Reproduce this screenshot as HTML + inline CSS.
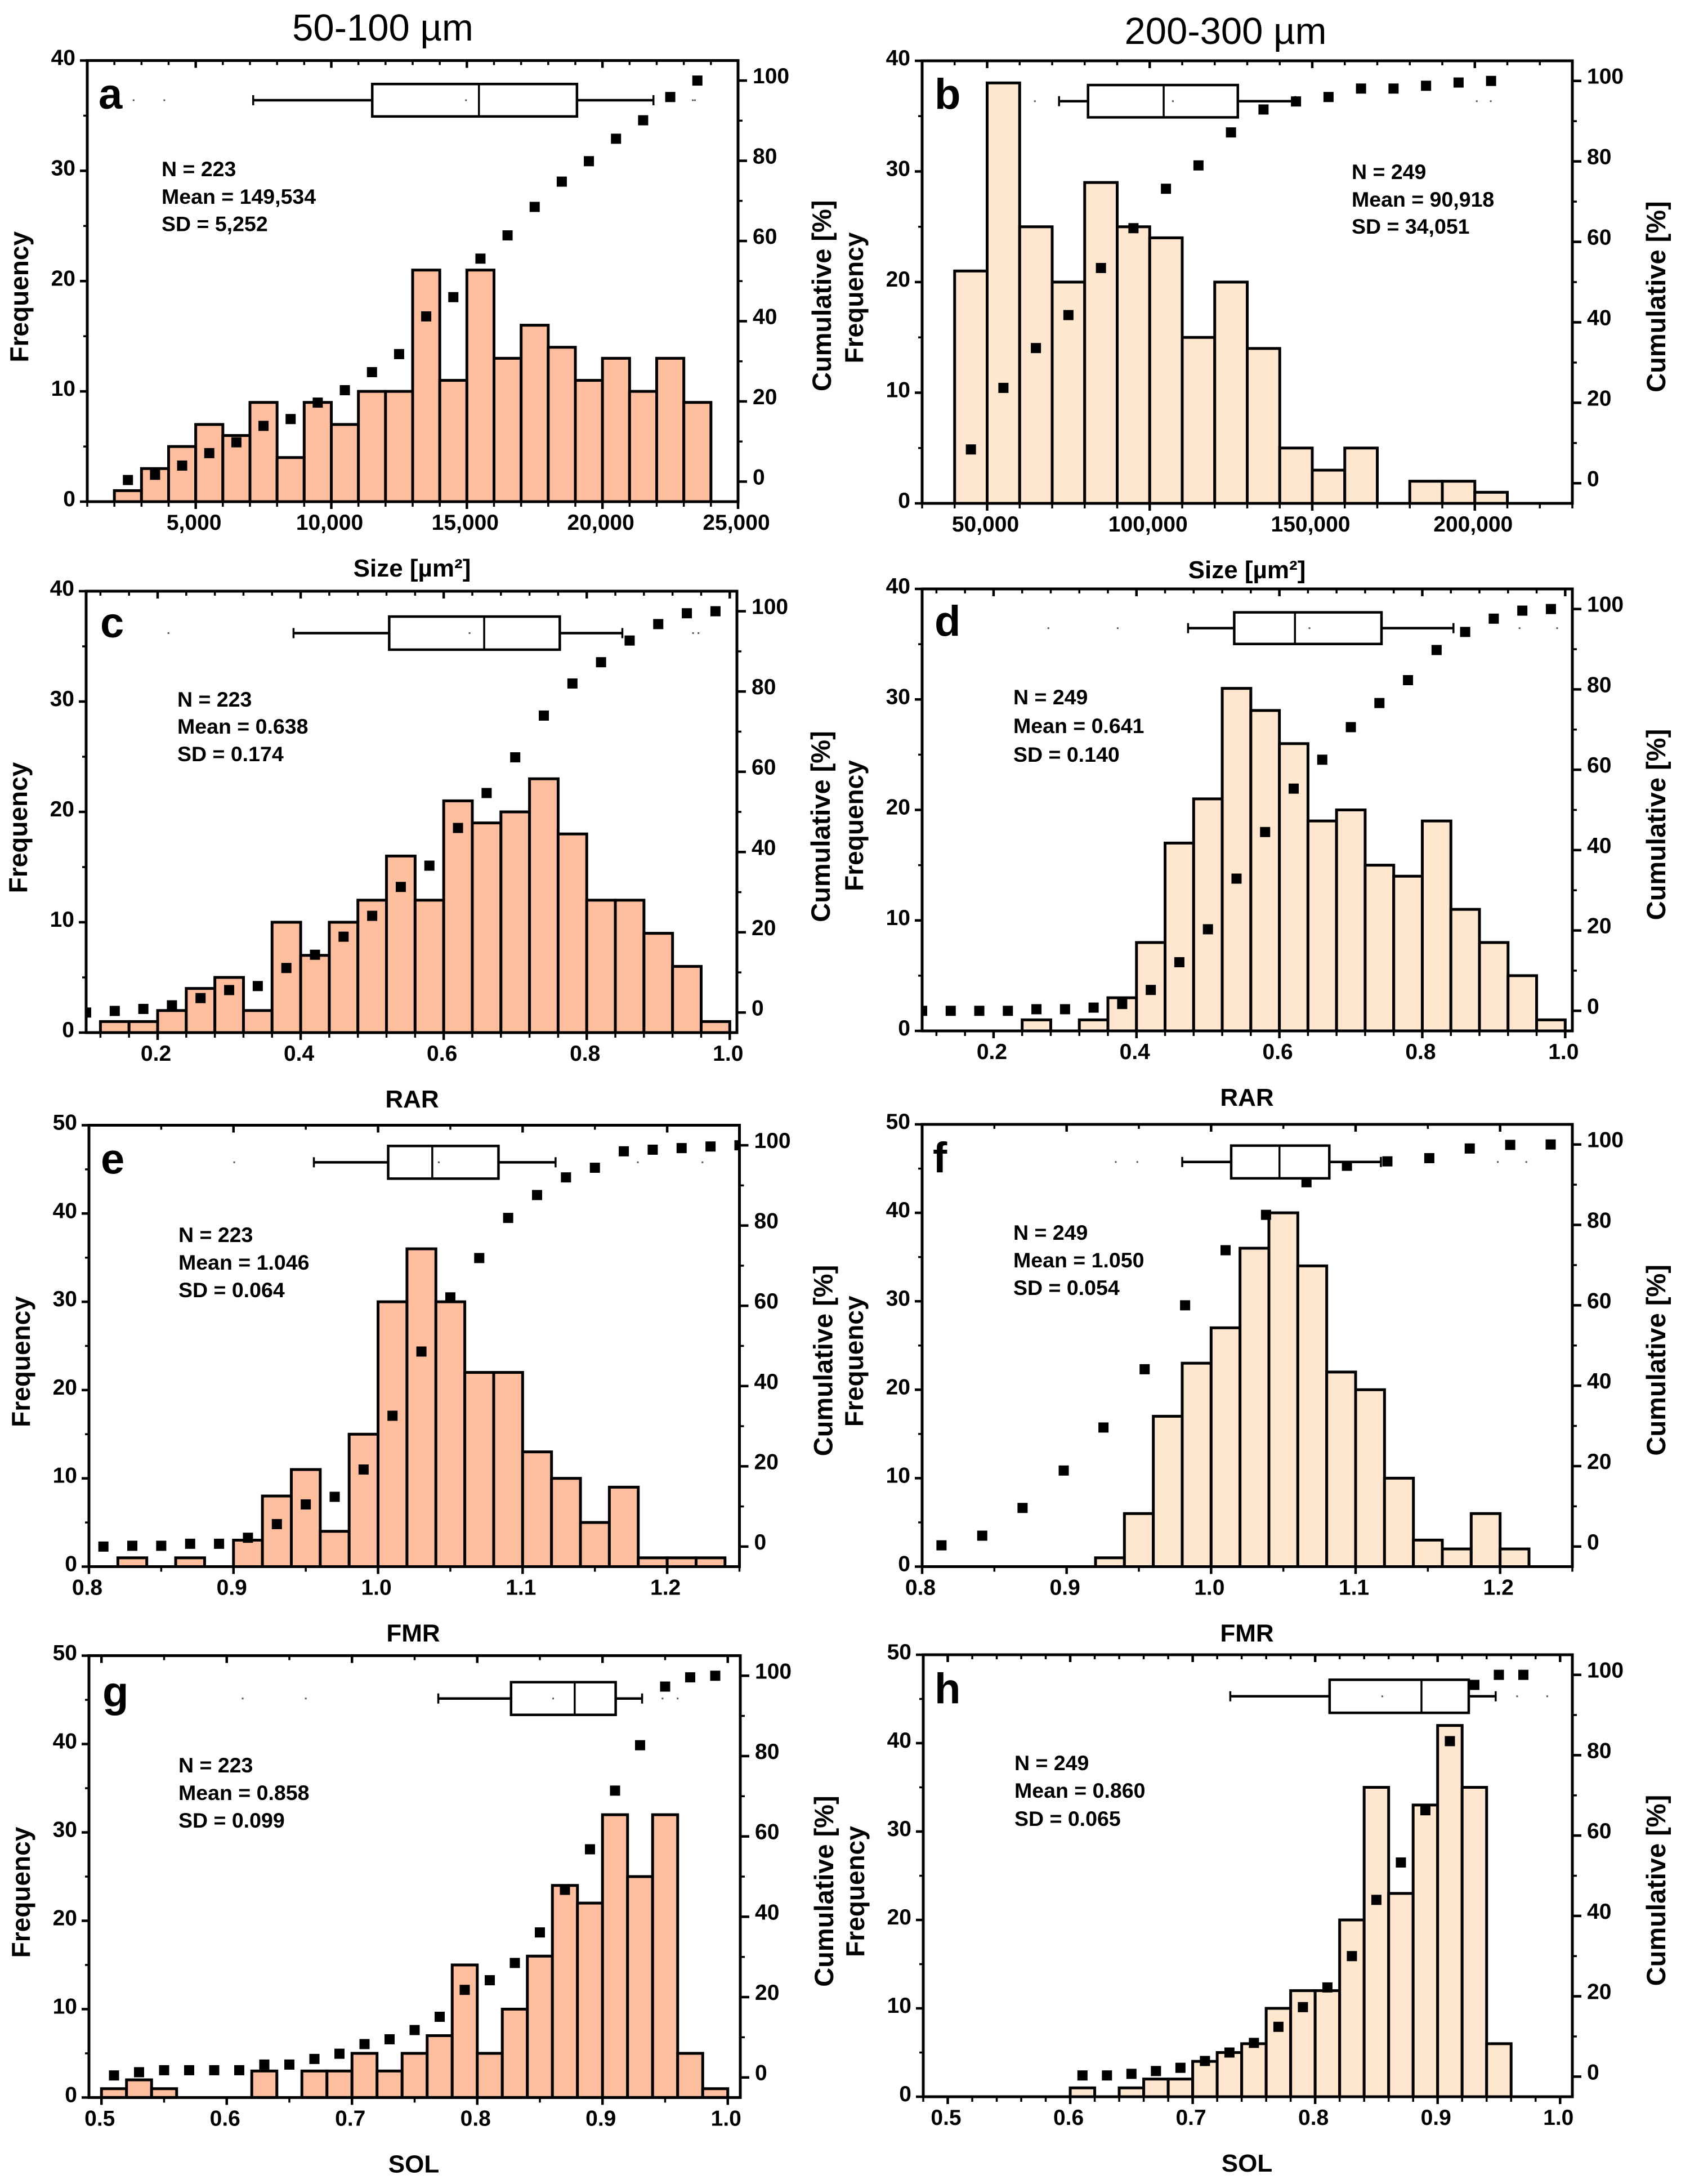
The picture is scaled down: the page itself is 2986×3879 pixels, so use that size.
<!DOCTYPE html>
<html lang="en">
<head>
<meta charset="utf-8">
<title>Particle shape histograms</title>
<style>
html,body{margin:0;padding:0;background:#fff;}
svg{display:block;}
text{font-family:"Liberation Sans",Arial,sans-serif;fill:#000;}
</style>
</head>
<body>
<svg id="figure" xmlns="http://www.w3.org/2000/svg" width="2986" height="3879" viewBox="0 0 2986 3879">
<rect x="0" y="0" width="2986" height="3879" fill="#fff"/>
<text x="680" y="72" font-size="67" text-anchor="middle">50-100 µm</text>
<text x="2177" y="78" font-size="67" text-anchor="middle">200-300 µm</text>
</svg>
<script>
// ---- shared tick values ----
const freqTicks40 = [0, 10, 20, 30, 40];
const freqTicks50 = [0, 10, 20, 30, 40, 50];
const cumTicks = [0, 20, 40, 60, 80, 100];

// ---- panel a ----
const aCounts = [1,3,5,7,6,9,4,9,7,10,10,21,11,21,13,16,14,11,13,10,13,9];
const aCum = [0.4,1.7,4,7.1,9.8,13.9,15.6,19.7,22.8,27.3,31.8,41.2,46,55.6,61.4,68.5,74.8,79.9,85.5,90.1,95.9,100];
const aBox = [7119,11510,15444,19060,21880];
const aDots = [2709,3841,14967,23330,23410];
const aXTicks = [5000,10000,15000,20000,25000];
const aXLabels = ['5,000','10,000','15,000','20,000','25,000'];
const aStats = ['N = 223','Mean = 149,534','SD = 5,252'];

// ---- panel b ----
const bCounts = [21,38,25,20,29,25,24,15,20,14,5,3,5,0,2,2,1];
const bCum = [8.4,23.7,33.6,41.8,53.5,63.4,73.2,79,87.2,92.9,94.9,96,98.1,98.1,98.8,99.6,100];
const bBox = [72114,81030,104300,127100,144770];
const bDots = [64680,107130,200600,204900];
const bXTicks = [50000,100000,150000,200000];
const bXLabels = ['50,000','100,000','150,000','200,000'];
const bStats = ['N = 249','Mean = 90,918','SD = 34,051'];

// ---- panel c ----
const cCounts = [1,1,2,4,5,2,10,7,10,12,16,12,21,19,20,23,18,12,12,9,6,1];
const cCum = [0,0.4,0.9,1.8,3.6,5.6,6.6,11.1,14.4,18.9,24.1,31.3,36.6,46,54.7,63.6,74,82,87.3,92.7,96.8,99.5,100];
const cBox = [0.390,0.5238,0.6566,0.7623,0.8498];
const cDots = [0.2151,0.6362,0.9487,0.9562];
const cXTicks = [0.2,0.4,0.6,0.8,1.0];
const cXLabels = ['0.2','0.4','0.6','0.8','1.0'];
const cStats = ['N = 223','Mean = 0.638','SD = 0.174'];

// ---- panel d ----
const dCounts = [0,0,0,1,0,1,3,8,17,21,31,29,26,19,20,15,14,19,11,8,5,1];
const dCum = [0,0,0,0,0.4,0.4,0.8,1.7,5.2,12.1,20.3,32.9,44.5,55.3,62.5,70.6,76.6,82.3,89.8,94.3,97.6,99.6,100];
const dBox = [0.4722,0.5368,0.6218,0.7429,0.8436];
const dDots = [0.2767,0.3737,0.6421,0.9361,0.9887];
const dXTicks = [0.2,0.4,0.6,0.8,1.0];
const dXLabels = ['0.2','0.4','0.6','0.8','1.0'];
const dStats = ['N = 249','Mean = 0.641','SD = 0.140'];

// ---- panel e ----
const eCounts = [1,0,1,0,3,8,11,4,15,30,36,30,22,22,13,10,5,9,1,1,1];
const eCum = [0,0.2,0.2,0.7,0.7,2.2,5.6,10.5,12.4,19.2,32.6,48.6,62.1,71.9,81.9,87.6,92,94.4,98.5,98.9,99.3,99.7,100];
const eBox = [0.9556,1.007,1.0375,1.0833,1.1228];
const eDots = [0.9005,1.042,1.1797,1.2244];
const eXTicks = [0.8,0.9,1.0,1.1,1.2];
const eXLabels = ['0.8','0.9','1.0','1.1','1.2'];
const eStats = ['N = 223','Mean = 1.046','SD = 0.064'];

// ---- panel f ----
const fCounts = [1,6,17,23,27,36,40,34,22,20,10,3,2,6,2];
const fCumX = [0.8134,0.8416,0.8695,0.898,0.9255,0.954,0.982,1.010,1.038,1.066,1.094,1.122,1.151,1.179,1.207,1.235];
const fCum = [0.3,2.7,9.6,18.9,29.6,44.1,60,73.7,82.5,90.6,94.7,95.8,96.6,99,99.9,100];
const fBox = [0.98,1.0139,1.0473,1.0818,1.1175];
const fDots = [0.934,0.9489,1.1984,1.2181];
const fXTicks = [0.8,0.9,1.0,1.1,1.2];
const fXLabels = ['0.8','0.9','1.0','1.1','1.2'];
const fStats = ['N = 249','Mean = 1.050','SD = 0.054'];

// ---- panel g ----
const gCounts = [1,2,1,0,0,0,3,0,3,3,5,3,5,7,15,5,10,16,24,22,32,25,32,5,1];
const gCum = [0.5,1.3,1.8,1.8,1.8,1.8,3.2,3.2,4.6,5.9,8.3,9.5,11.8,15.1,21.8,24.2,28.5,36.1,46.7,56.8,71.4,82.7,97.3,99.6,100];
const gBox = [0.7689,0.827,0.8778,0.9105,0.9316];
const gDots = [0.6127,0.6631,0.8606,0.9479,0.96];
const gXTicks = [0.5,0.6,0.7,0.8,0.9,1.0];
const gXLabels = ['0.5','0.6','0.7','0.8','0.9','1.0'];
const gStats = ['N = 223','Mean = 0.858','SD = 0.099'];

// ---- panel h ----
const hCounts = [1,0,1,2,2,4,5,6,10,12,12,20,35,23,33,42,35,6];
const hCum = [0.3,0.3,0.7,1.4,2.2,3.9,6,8.4,12.4,17.3,22.2,30,44,53.3,66.3,83.5,97.5,100,100];
const hBox = [0.7307,0.8118,0.8868,0.9254,0.9474];
const hDots = [0.8548,0.9649,0.9895];
const hXTicks = [0.5,0.6,0.7,0.8,0.9,1.0];
const hXLabels = ['0.5','0.6','0.7','0.8','0.9','1.0'];
const hStats = ['N = 249','Mean = 0.860','SD = 0.065'];

const NS = 'http://www.w3.org/2000/svg';
const root = document.getElementById('figure');
const FILL_SMALL = '#FFBF9F';
const FILL_LARGE = '#FFE6CE';

function node(parent, tag, attrs) {
  const el = document.createElementNS(NS, tag);
  for (const k in attrs) el.setAttribute(k, attrs[k]);
  parent.appendChild(el);
  return el;
}

function minorValues(lo, hi, step) {
  const out = [];
  const n = Math.floor((hi - lo) / step + 1e-6);
  const first = Math.ceil(lo / step - 1e-6);
  for (let i = first; i * step <= hi + 1e-9 && i - first <= n; i++) out.push(i * step);
  return out;
}

function drawPanel(p) {
  const g = node(root, 'g', {});
  
  

  const sx = v => p.left + (v - p.xMin) / (p.xMax - p.xMin) * (p.right - p.left);
  const sy = v => p.bottom - (v - 0) / p.yMax * (p.bottom - p.top);
  const sc = v => p.bottom - (v + 5) / 110 * (p.bottom - p.top);

  const clipId = 'clip-' + p.id;
  const defs = node(g, 'defs', {});
  const clip = node(defs, 'clipPath', {id: clipId});
  node(clip, 'rect', {x: p.left, y: p.top, width: p.right - p.left, height: p.bottom - p.top});

  // bars
  const bars = node(g, 'g', {});
  
  
  p.counts.forEach((c, i) => {
    if (c <= 0) return;
    const x0 = sx(p.binStart + i * p.binWidth);
    const x1 = sx(p.binStart + (i + 1) * p.binWidth);
    const bar = node(bars, 'rect', {x: x0, y: sy(c), width: x1 - x0, height: p.bottom - sy(c), fill: p.fill, stroke: '#000', 'stroke-width': 5});
    
    
  });

  // box plot
  const box = node(g, 'g', {stroke: '#000', 'stroke-width': 4.5, fill: 'none'});
  
  
  const by = sy(p.boxY), bh = p.boxHalf / p.yMax * (p.bottom - p.top);
  const [w0, q1, med, q3, w1] = p.box;
  node(box, 'line', {x1: sx(w0), x2: sx(q1), y1: by, y2: by});
  node(box, 'line', {x1: sx(q3), x2: sx(w1), y1: by, y2: by});
  node(box, 'line', {x1: sx(w0), x2: sx(w0), y1: by - 9, y2: by + 9, 'stroke-width': 3.5});
  node(box, 'line', {x1: sx(w1), x2: sx(w1), y1: by - 9, y2: by + 9, 'stroke-width': 3.5});
  node(box, 'rect', {x: sx(q1), y: by - bh, width: sx(q3) - sx(q1), height: 2 * bh, fill: '#fff'});
  node(box, 'line', {x1: sx(med), x2: sx(med), y1: by - bh, y2: by + bh, 'stroke-width': 3.5});
  p.dots.forEach(d => {
    const dot = node(g, 'rect', {x: sx(d) - 1.5, y: by - 1.5, width: 3, height: 3, fill: '#555'});
    
    
  });

  // cumulative points
  const pts = node(g, 'g', {'clip-path': 'url(#' + clipId + ')'});
  
  
  p.cum.forEach((c, i) => {
    const xv = p.cumX ? p.cumX[i] : p.cumStart + i * p.cumStep;
    const pt = node(pts, 'rect', {x: sx(xv) - 9, y: sc(c) - 9, width: 18, height: 18, fill: '#000'});
    
    
  });

  // axes
  const ax = node(g, 'g', {stroke: '#000', 'stroke-width': 3.5, fill: 'none'});
  
  

  minorValues(p.xMin, p.xMax, p.xMinor).forEach(v => {
    const x = sx(v);
    node(ax, 'line', {x1: x, x2: x, y1: p.bottom, y2: p.bottom + 9});
    node(ax, 'line', {x1: x, x2: x, y1: p.top, y2: p.top + 8});
  });
  p.xTicks.forEach(v => {
    const x = sx(v);
    node(ax, 'line', {x1: x, x2: x, y1: p.bottom, y2: p.bottom + 13, 'stroke-width': 4.5});
    node(ax, 'line', {x1: x, x2: x, y1: p.top, y2: p.top + 13, 'stroke-width': 4.5});
  });
  const yStep = p.yTicks[1] - p.yTicks[0];
  p.yTicks.forEach((v, i) => {
    const y = sy(v);
    node(ax, 'line', {x1: p.left - 13, x2: p.left, y1: y, y2: y, 'stroke-width': 4.5});
    if (i < p.yTicks.length - 1) {
      const ym = sy(v + yStep / 2);
      node(ax, 'line', {x1: p.left - 7, x2: p.left, y1: ym, y2: ym});
    }
  });
  cumTicks.forEach((v, i) => {
    const y = sc(v);
    node(ax, 'line', {x1: p.right, x2: p.right + 16, y1: y, y2: y, 'stroke-width': 4.5});
    if (i < cumTicks.length - 1) {
      const ym = sc(v + 10);
      node(ax, 'line', {x1: p.right, x2: p.right + 8, y1: ym, y2: ym});
    }
  });
  node(ax, 'rect', {x: p.left, y: p.top, width: p.right - p.left, height: p.bottom - p.top, 'stroke-width': 5});

  // tick labels
  p.xTicks.forEach((v, i) => {
    const t = node(g, 'text', {x: sx(v) - 3, y: p.bottom + 50, 'font-size': 39, 'font-weight': 'bold', 'text-anchor': 'middle'});
    t.textContent = p.xLabels[i];
    
    
  });
  p.yTicks.forEach(v => {
    const t = node(g, 'text', {x: p.left - 21, y: sy(v) + 8, 'font-size': 39, 'font-weight': 'bold', 'text-anchor': 'end'});
    t.textContent = String(v);
    
    
  });
  cumTicks.forEach(v => {
    const t = node(g, 'text', {x: p.right + 26, y: sc(v) + 5, 'font-size': 39, 'font-weight': 'bold'});
    t.textContent = String(v);
    
    
  });

  // titles
  const xt = node(g, 'text', {x: p.xTitleX, y: p.bottom + 133, 'font-size': 44, 'font-weight': 'bold', 'text-anchor': 'middle'});
  xt.textContent = p.xTitle;
  
  

  const midY = (p.top + p.bottom) / 2 + 28;
  const yt = node(g, 'text', {'font-size': 46, 'font-weight': 'bold', 'text-anchor': 'middle',
    transform: 'translate(' + (p.left - 105) + ',' + midY + ') rotate(-90)'});
  yt.textContent = 'Frequency';
  
  

  const ct = node(g, 'text', {'font-size': 47, 'font-weight': 'bold', 'text-anchor': 'middle',
    transform: 'translate(' + (p.right + 165) + ',' + (midY - 2) + ') rotate(-90)'});
  ct.textContent = 'Cumulative [%]';
  
  

  // panel letter
  const lt = node(g, 'text', {x: p.letterX, y: p.letterY, 'font-size': 76, 'font-weight': 'bold'});
  lt.textContent = p.id;
  
  

  // statistics
  p.stats.forEach((s, i) => {
    const st = node(g, 'text', {x: p.statX, y: p.statY[i], 'font-size': 37.5, 'font-weight': 'bold'});
    st.textContent = s;
    
    
  });
}

drawPanel({id:'a', left:155, right:1311, top:107.5, bottom:891, xMin:1000, xMax:25000, xMinor:1000, yMax:40, yTicks:freqTicks40,
  counts:aCounts, binStart:2000, binWidth:1000, cum:aCum, cumStart:2500, cumStep:1000, box:aBox, boxY:36.4, boxHalf:1.47, dots:aDots,
  xTicks:aXTicks, xLabels:aXLabels, xTitle:'Size [µm²]', xTitleX:732, fill:FILL_SMALL, letterX:175, letterY:193, stats:aStats, statX:287, statY:[313,362,410.5]});
drawPanel({id:'b', left:1638, right:2793, top:108, bottom:894, xMin:30000, xMax:230000, xMinor:10000, yMax:40, yTicks:freqTicks40,
  counts:bCounts, binStart:40000, binWidth:10000, cum:bCum, cumStart:45000, cumStep:10000, box:bBox, boxY:36.35, boxHalf:1.46, dots:bDots,
  xTicks:bXTicks, xLabels:bXLabels, xTitle:'Size [µm²]', xTitleX:2215, fill:FILL_LARGE, letterX:1660, letterY:193, stats:bStats, statX:2401, statY:[318,367,415]});
drawPanel({id:'c', left:153, right:1309, top:1050, bottom:1834, xMin:0.1, xMax:1.01, xMinor:0.04, yMax:40, yTicks:freqTicks40,
  counts:cCounts, binStart:0.12, binWidth:0.04, cum:cCum, cumStart:0.10, cumStep:0.04, box:cBox, boxY:36.2, boxHalf:1.5, dots:cDots,
  xTicks:cXTicks, xLabels:cXLabels, xTitle:'RAR', xTitleX:732, fill:FILL_SMALL, letterX:178, letterY:1132, stats:cStats, statX:315, statY:[1255,1303,1352]});
drawPanel({id:'d', left:1638, right:2793, top:1046, bottom:1831, xMin:0.1, xMax:1.01, xMinor:0.04, yMax:40, yTicks:freqTicks40,
  counts:dCounts, binStart:0.12, binWidth:0.04, cum:dCum, cumStart:0.10, cumStep:0.04, box:dBox, boxY:36.45, boxHalf:1.43, dots:dDots,
  xTicks:dXTicks, xLabels:dXLabels, xTitle:'RAR', xTitleX:2215, fill:FILL_LARGE, letterX:1660, letterY:1129, stats:dStats, statX:1800, statY:[1251,1302,1353]});
drawPanel({id:'e', left:158, right:1313.5, top:1998.5, bottom:2782.5, xMin:0.8, xMax:1.25, xMinor:0.05, yMax:50, yTicks:freqTicks50,
  counts:eCounts, binStart:0.82, binWidth:0.02, cum:eCum, cumStart:0.81, cumStep:0.02, box:eBox, boxY:45.8, boxHalf:1.85, dots:eDots,
  xTicks:eXTicks, xLabels:eXLabels, xTitle:'FMR', xTitleX:734, fill:FILL_SMALL, letterX:179, letterY:2084.5, stats:eStats, statX:317, statY:[2206,2255,2304]});
drawPanel({id:'f', left:1638, right:2793, top:1997, bottom:2782.5, xMin:0.8, xMax:1.25, xMinor:0.05, yMax:50, yTicks:freqTicks50,
  counts:fCounts, binStart:0.92, binWidth:0.02, cum:fCum, cumX:fCumX, box:fBox, boxY:45.75, boxHalf:1.85, dots:fDots,
  xTicks:fXTicks, xLabels:fXLabels, xTitle:'FMR', xTitleX:2215, fill:FILL_LARGE, letterX:1657, letterY:2082, stats:fStats, statX:1800, statY:[2202,2251,2300]});
drawPanel({id:'g', left:158, right:1315, top:2940.6, bottom:3725.4, xMin:0.49, xMax:1.01, xMinor:0.05, yMax:50, yTicks:freqTicks50,
  counts:gCounts, binStart:0.5, binWidth:0.02, cum:gCum, cumStart:0.51, cumStep:0.02, box:gBox, boxY:45.15, boxHalf:1.85, dots:gDots,
  xTicks:gXTicks, xLabels:gXLabels, xTitle:'SOL', xTitleX:735, fill:FILL_SMALL, letterX:182, letterY:3031, stats:gStats, statX:317, statY:[3148,3197,3246]});
drawPanel({id:'h', left:1640, right:2793, top:2939, bottom:3724, xMin:0.48, xMax:1.01, xMinor:0.02, yMax:50, yTicks:freqTicks50,
  counts:hCounts, binStart:0.6, binWidth:0.02, cum:hCum, cumStart:0.61, cumStep:0.02, box:hBox, boxY:45.3, boxHalf:1.87, dots:hDots,
  xTicks:hXTicks, xLabels:hXLabels, xTitle:'SOL', xTitleX:2215, fill:FILL_LARGE, letterX:1660, letterY:3025, stats:hStats, statX:1802, statY:[3144,3193,3243]});
</script>
</body>
</html>
